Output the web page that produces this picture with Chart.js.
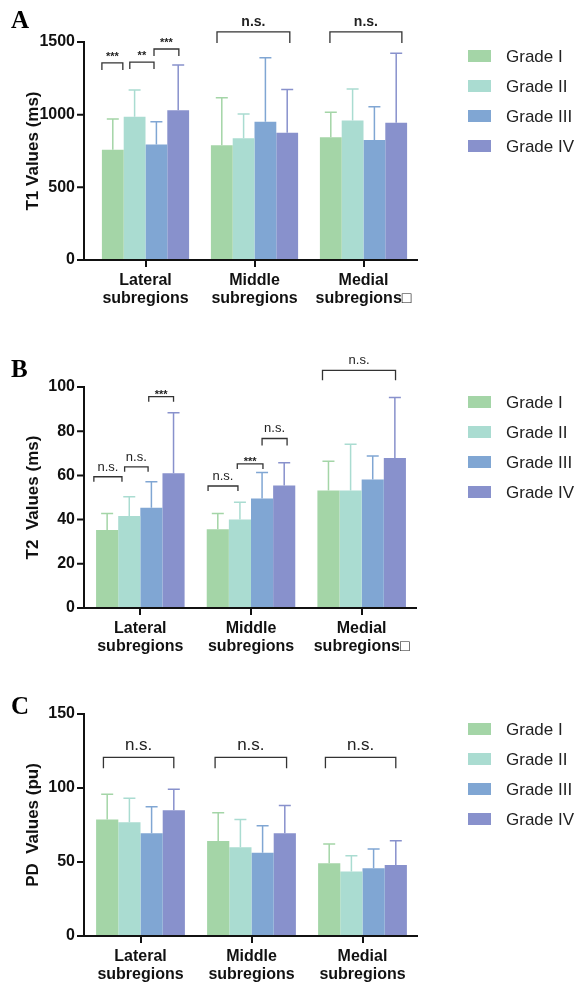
<!DOCTYPE html>
<html>
<head>
<meta charset="utf-8">
<script src="https://cdn.jsdelivr.net/npm/chart.js@4.4.0/dist/chart.umd.min.js"></script>
<style>
  body { margin: 0; background: #fff; width: 577px; height: 986px; overflow: hidden; position: relative; }
  .panel { position: absolute; left: 0; width: 577px; }
</style>
</head>
<body>
<div class="panel" style="top:0"><canvas id="chartA" width="577" height="320"></canvas></div>
<div class="panel" style="top:320px"><canvas id="chartB" width="577" height="345"></canvas></div>
<div class="panel" style="top:650px"><canvas id="chartC" width="577" height="336"></canvas></div>
<script>
const grades = ['Grade I', 'Grade II', 'Grade III', 'Grade IV'];
const regionsAB = [['Lateral', 'subregions'], ['Middle', 'subregions'], ['Medial', 'subregions\u25A1']];
const regionsC = [['Lateral', 'subregions'], ['Middle', 'subregions'], ['Medial', 'subregions']];
const gradeColors = ['#a4d5a7', '#aadcd1', '#80a6d3', '#8891cc'];

// T1 (ms): rows = grades, columns = lateral / middle / medial
const t1Means = [
  [758, 790, 845],
  [985, 838, 960],
  [795, 952, 826],
  [1030, 876, 945]
];
const t1SD = [
  [212, 327, 171],
  [185, 167, 217],
  [157, 440, 229],
  [312, 298, 477]
];
// [region, from bar, to bar, bracket top, leg bottom, label]
const t1Marks = [
  [0, 0, 0.96, 1356, 1308, '***'],
  [0, 1.28, 2.39, 1362, 1314, '**'],
  [0, 2.39, 3.53, 1452, 1404, '***'],
  [1, 0.28, 3.62, 1569, 1493, 'n.s.'],
  [2, 0.46, 3.76, 1569, 1493, 'n.s.']
];

// T2 (ms)
const t2Means = [
  [35.3, 35.6, 53.2],
  [41.6, 40.1, 53.2],
  [45.4, 49.6, 58.2],
  [61.0, 55.4, 67.9]
];
const t2SD = [
  [7.5, 7.2, 13.2],
  [8.7, 7.7, 20.9],
  [11.7, 11.7, 10.6],
  [27.3, 10.3, 27.3]
];
const t2Marks = [
  [0, -0.1, 1.17, 59.4, 57.1, 'n.s.'],
  [0, 1.29, 2.35, 63.9, 61.6, 'n.s.'],
  [0, 2.38, 3.5, 95.6, 93.3, '***'],
  [1, 0.06, 1.41, 55.2, 52.9, 'n.s.'],
  [1, 1.38, 2.54, 65.2, 62.9, '***'],
  [1, 2.5, 3.63, 76.7, 73.5, 'n.s.'],
  [2, 0.23, 3.53, 107.5, 103, 'n.s.']
];

// PD (pu)
const pdMeans = [
  [78.8, 64.2, 49.1],
  [76.8, 59.9, 43.5],
  [69.4, 56.3, 45.7],
  [84.9, 69.4, 48.0]
];
const pdSD = [
  [16.9, 19.1, 13.1],
  [16.2, 18.9, 10.8],
  [18.0, 18.2, 13.1],
  [14.2, 18.7, 16.4]
];
const pdMarks = [
  [0, 0.33, 3.5, 120.7, 113.3, 'n.s.'],
  [1, 0.36, 3.58, 120.7, 113.3, 'n.s.'],
  [2, 0.33, 3.5, 120.7, 113.3, 'n.s.']
];

const FONT = '"Liberation Sans", Arial, sans-serif';
const INK = '#111';
const W = 577;

function makeChart(id, cfg) {
  const area = cfg.area;
  const extras = {
    id: 'extras' + id,
    afterDatasetsDraw(chart) {
      const ctx = chart.ctx;
      const y = chart.scales.y;
      ctx.save();
      ctx.lineWidth = 1.5;
      chart.data.datasets.forEach((ds, i) => {
        const meta = chart.getDatasetMeta(i);
        ctx.strokeStyle = gradeColors[i];
        meta.data.forEach((bar, j) => {
          const top = y.getPixelForValue(ds.data[j] + cfg.sd[i][j]);
          ctx.beginPath();
          ctx.moveTo(bar.x, bar.y);
          ctx.lineTo(bar.x, top);
          ctx.moveTo(bar.x - 6, top);
          ctx.lineTo(bar.x + 6, top);
          ctx.stroke();
        });
      });
      ctx.restore();
    },
    afterDraw(chart) {
      const ctx = chart.ctx;
      const ca = chart.chartArea;
      const y = chart.scales.y;
      const axisX = ca.left - cfg.gap;
      ctx.save();
      // axes
      ctx.strokeStyle = INK;
      ctx.lineWidth = 2;
      ctx.beginPath();
      ctx.moveTo(axisX, y.getPixelForValue(y.max) - 1);
      ctx.lineTo(axisX, ca.bottom);
      ctx.lineTo(ca.right, ca.bottom);
      y.ticks.forEach(t => {
        const py = y.getPixelForValue(t.value);
        ctx.moveTo(axisX - 7, py);
        ctx.lineTo(axisX, py);
      });
      ctx.stroke();

      // significance brackets
      const m0 = chart.getDatasetMeta(0);
      ctx.strokeStyle = '#333';
      ctx.fillStyle = '#222';
      ctx.lineWidth = 1.3;
      ctx.textAlign = 'center';
      ctx.textBaseline = 'alphabetic';
      cfg.marks.forEach(([cat, a, b, top, leg, label]) => {
        const bar = m0.data[cat];
        const left = bar.x - bar.width / 2;
        const x1 = left + a * bar.width;
        const x2 = left + b * bar.width;
        const yt = y.getPixelForValue(top);
        const yb = y.getPixelForValue(leg);
        ctx.beginPath();
        ctx.moveTo(x1, yb);
        ctx.lineTo(x1, yt);
        ctx.lineTo(x2, yt);
        ctx.lineTo(x2, yb);
        ctx.stroke();
        const star = label.indexOf('*') >= 0;
        ctx.font = star ? cfg.starFont : cfg.nsFont;
        ctx.fillText(label, (x1 + x2) / 2, yt - (star ? cfg.starGap : cfg.nsGap));
      });

      // legend
      ctx.textAlign = 'left';
      ctx.textBaseline = 'middle';
      ctx.font = '17px ' + FONT;
      grades.forEach((g, i) => {
        const cy = cfg.legendTop + i * 30;
        ctx.fillStyle = gradeColors[i];
        ctx.fillRect(468, cy - 6, 23, 12);
        ctx.fillStyle = '#222';
        ctx.fillText(g, 506, cy + 1);
      });

      // panel letter
      ctx.fillStyle = '#000';
      ctx.textBaseline = 'alphabetic';
      ctx.font = 'bold 25px "Liberation Serif", "Times New Roman", serif';
      ctx.fillText(cfg.letter, 11, cfg.letterY);
      ctx.restore();
    }
  };

  return new Chart(document.getElementById(id), {
    type: 'bar',
    data: {
      labels: cfg.labels,
      datasets: grades.map((g, i) => ({
        label: g,
        data: cfg.means[i],
        backgroundColor: gradeColors[i],
        borderWidth: 0
      }))
    },
    options: {
      responsive: false,
      animation: false,
      layout: { padding: { top: area.top, right: W - area.right, left: 0, bottom: 0 } },
      datasets: { bar: { categoryPercentage: 0.8, barPercentage: 1 } },
      plugins: { legend: { display: false }, tooltip: { enabled: false } },
      scales: {
        x: {
          grid: { display: true, offset: false, drawOnChartArea: false, drawTicks: true, tickLength: 7, color: INK, lineWidth: 2 },
          border: { display: false },
          ticks: { color: INK, font: { family: FONT, size: 16, weight: 'bold', lineHeight: 1.15 }, padding: 4, maxRotation: 0, autoSkip: false },
          afterFit: s => { s.height = cfg.height - area.bottom; }
        },
        y: {
          min: 0,
          max: cfg.max,
          ticks: {
            stepSize: cfg.step, color: INK, font: { family: FONT, size: 16, weight: 'bold' }, padding: cfg.gap + 9,
            callback: v => String(v)
          },
          grid: { display: false, drawTicks: false },
          border: { display: false },
          title: { display: true, text: cfg.title, color: INK, font: { family: FONT, size: 17, weight: 'bold' }, padding: { top: 23, bottom: 0 } },
          afterFit: s => { s.width = area.left; }
        }
      }
    },
    plugins: [extras]
  });
}

makeChart('chartA', {
  labels: regionsAB, means: t1Means, sd: t1SD, marks: t1Marks,
  max: 1500, step: 500, title: 'T1 Values (ms)', letter: 'A', letterY: 28,
  height: 320, area: { top: 42, bottom: 260, left: 91, right: 418 }, gap: 7,
  starFont: 'bold 11px ' + FONT, nsFont: 'bold 14px ' + FONT, starGap: 3, nsGap: 6,
  legendTop: 56
});

makeChart('chartB', {
  labels: regionsAB, means: t2Means, sd: t2SD, marks: t2Marks,
  max: 100, step: 20, title: 'T2  Values (ms)', letter: 'B', letterY: 57,
  height: 345, area: { top: 67, bottom: 288, left: 85, right: 417 }, gap: 1,
  starFont: 'bold 11px ' + FONT, nsFont: '13px ' + FONT, starGap: -1, nsGap: 6,
  legendTop: 82
});

makeChart('chartC', {
  labels: regionsC, means: pdMeans, sd: pdSD, marks: pdMarks,
  max: 150, step: 50, title: 'PD  Values (pu)', letter: 'C', letterY: 64,
  height: 336, area: { top: 64, bottom: 286, left: 85, right: 418 }, gap: 1,
  starFont: 'bold 11px ' + FONT, nsFont: '17px ' + FONT, starGap: 3, nsGap: 7,
  legendTop: 79
});
</script>
</body>
</html>
